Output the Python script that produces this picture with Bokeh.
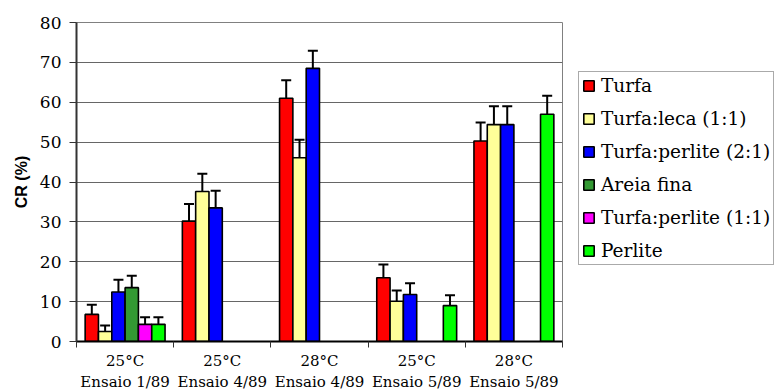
import math
from bokeh.plotting import figure
from bokeh.models import (ColumnDataSource, Range1d, FixedTicker, Whisker, TeeHead,
                          Legend, LegendItem)
from bokeh.transform import dodge
from bokeh.embed import file_html
from bokeh.resources import INLINE

# ---- data ----
temps = ["25°C", "25°C", "28°C", "25°C", "28°C"]
ensaios = ["Ensaio 1/89", "Ensaio 4/89", "Ensaio 4/89", "Ensaio 5/89", "Ensaio 5/89"]
series_names = ["Turfa", "Turfa:leca (1:1)", "Turfa:perlite (2:1)", "Areia fina",
                "Turfa:perlite (1:1)", "Perlite"]
nan = float("nan")
turfa = [6.8, 30.2, 61.0, 16.0, 50.3]
turfa_err = [2.4, 4.3, 4.5, 3.3, 4.6]
turfa_leca = [2.5, 37.6, 46.1, 10.1, 54.4]
turfa_leca_err = [1.5, 4.5, 4.5, 2.7, 4.6]
turfa_perl21 = [12.4, 33.5, 68.5, 11.8, 54.4]
turfa_perl21_err = [3.1, 4.3, 4.4, 2.8, 4.6]
areia = [13.5, nan, nan, nan, nan]
areia_err = [3.0, nan, nan, nan, nan]
turfa_perl11 = [4.3, nan, nan, nan, nan]
turfa_perl11_err = [1.8, nan, nan, nan, nan]
perlite = [4.3, nan, nan, 9.0, 57.0]
perlite_err = [1.8, nan, nan, 2.6, 4.6]
y_ticks = [0, 10, 20, 30, 40, 50, 60, 70, 80]

values = [turfa, turfa_leca, turfa_perl21, areia, turfa_perl11, perlite]
errors = [turfa_err, turfa_leca_err, turfa_perl21_err, areia_err, turfa_perl11_err, perlite_err]
colors = ["#FF0000", "#FFFF99", "#0000FF", "#339933", "#FF00FF", "#00FF00"]

SERIF = "DejaVu Serif"
n_cat = len(temps)
bar_w = 0.137

p = figure(frame_width=486, frame_height=319, output_backend="svg", toolbar_location=None,
           x_range=Range1d(0, n_cat), y_range=Range1d(0, 80),
           min_border_left=76, min_border_top=22, min_border_right=0,
           min_border_bottom=44)
p.background_fill_color = "white"
p.border_fill_color = "white"
p.outline_line_color = "#808080"
p.outline_line_width = 1

legend_items = []
for k, (name, vals, errs, col) in enumerate(zip(series_names, values, errors, colors)):
    xs, vs, ups = [], [], []
    for i, (v, e) in enumerate(zip(vals, errs)):
        if not math.isnan(v):
            xs.append(i + 0.5)
            vs.append(v)
            ups.append(v + e)
    src = ColumnDataSource(dict(x=xs, v=vs, up=ups))
    off = (k - 2.5) * bar_w
    r = p.vbar(x=dodge("x", off, range=p.x_range), top="v", bottom=0, width=bar_w,
               source=src, fill_color=col, line_color="black", line_width=1.6)
    w = Whisker(base=dodge("x", off, range=p.x_range), lower="v", upper="up",
                source=src, dimension="height", line_color="black", line_width=2,
                upper_head=TeeHead(size=10, line_color="black", line_width=2),
                lower_head=None)
    p.add_layout(w)
    legend_items.append(LegendItem(label=name, renderers=[r]))

# axes
p.xgrid.visible = False
p.ygrid.ticker = FixedTicker(ticks=y_ticks)
p.ygrid.grid_line_color = "#666666"
p.ygrid.grid_line_width = 1

p.yaxis.ticker = FixedTicker(ticks=y_ticks)
p.yaxis.axis_line_color = "#333333"
p.yaxis.axis_line_width = 2
p.yaxis.major_tick_line_color = "#333333"
p.yaxis.major_tick_out = 7
p.yaxis.major_tick_in = 0
p.yaxis.minor_tick_line_color = None
p.yaxis.major_label_text_font = SERIF
p.yaxis.major_label_text_font_size = "17px"
p.yaxis.major_label_text_color = "black"
p.yaxis.major_label_standoff = 8
p.yaxis.axis_label = "CR (%)"
p.yaxis.axis_label_text_font = "Liberation Sans"
p.yaxis.axis_label_text_font_style = "bold"
p.yaxis.axis_label_text_font_size = "16px"
p.yaxis.axis_label_text_color = "black"
p.yaxis.axis_label_standoff = 7

centers = [i + 0.5 for i in range(n_cat)]
bounds = list(range(n_cat + 1))
p.xaxis.ticker = FixedTicker(ticks=centers, minor_ticks=bounds)
p.xaxis.major_label_overrides = {c: f"{t}\n{e}" for c, t, e in zip(centers, temps, ensaios)}
p.xaxis.axis_line_color = "black"
p.xaxis.axis_line_width = 2
p.xaxis.major_tick_line_color = None
p.xaxis.major_tick_out = 0
p.xaxis.major_tick_in = 0
p.xaxis.minor_tick_line_color = "#333333"
p.xaxis.minor_tick_out = 6
p.xaxis.minor_tick_in = 0
p.xaxis.minor_tick_line_width = 1
p.xaxis.major_label_text_font = SERIF
p.xaxis.major_label_text_font_size = "15px"
p.xaxis.major_label_text_color = "black"
p.xaxis.major_label_standoff = 4

legend = Legend(items=legend_items, location=(16, 76), orientation="vertical",
                label_text_font=SERIF, label_text_font_size="18.5px",
                label_text_color="black", glyph_width=13, glyph_height=13,
                label_height=20, spacing=12, padding=3, margin=0,
                label_standoff=6, border_line_color="#555555",
                border_line_width=1, background_fill_color="white",
                background_fill_alpha=1)
p.add_layout(legend, "right")

open("out.html", "w").write(file_html(p, INLINE))
